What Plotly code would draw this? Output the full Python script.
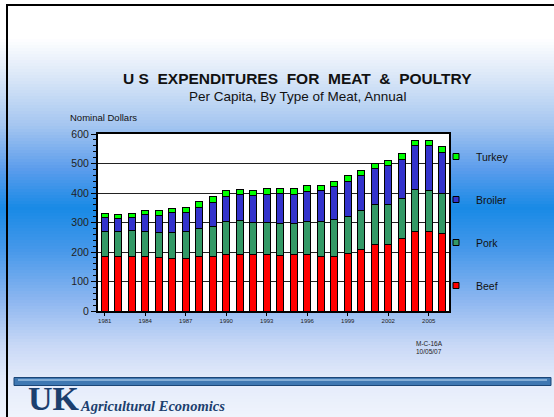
import plotly.graph_objects as go

# per capita expenditures, nominal dollars
years = list(range(1981, 2007))
beef = [186, 186, 186, 186, 183, 179, 177, 184, 184, 192, 192, 190, 190,
        187, 190, 190, 186, 186, 195, 208, 226, 226, 245, 269, 269, 263]
pork = [83, 83, 87, 83, 83, 87, 92, 96, 101, 112, 115, 109, 109,
        110, 107, 112, 116, 125, 126, 133, 136, 136, 136, 143, 141, 137]
broiler = [47, 44, 45, 57, 58, 69, 66, 72, 84, 85, 87, 93, 97,
           102, 97, 104, 107, 110, 119, 119, 120, 130, 132, 148, 150, 139]
turkey = [13, 14, 14, 15, 16, 14, 17, 18, 18, 19, 19, 18, 18,
          17, 20, 19, 18, 18, 18, 16, 18, 18, 20, 17, 17, 18]
year_ticks = list(range(1981, 2007, 3))

series = [
    ("Beef", beef, "#FF0000"),
    ("Pork", pork, "#339966"),
    ("Broiler", broiler, "#3333CC"),
    ("Turkey", turkey, "#00FF00"),
]

W, H = 554, 417
L, R, T, B = 98, 449, 134, 311   # plot area in pixels


def px(x):
    return (x - L) / (R - L)


def py(y):
    return (B - y) / (B - T)


fig = go.Figure()

for i, (name, vals, color) in enumerate(series):
    fig.add_trace(go.Bar(
        x=years, y=vals, name=name,
        marker=dict(color=color, line=dict(color="black", width=1)),
        width=0.55, showlegend=False,
    ))
    # small square legend keys, Turkey on top
    fig.add_trace(go.Scatter(
        x=[None], y=[None], name=name, mode="markers", legendgroup=name,
        legendrank=len(series) - i,
        marker=dict(symbol="square", size=6, color=color,
                    line=dict(color="black", width=1)),
    ))

# slide background: vertical white -> blue -> pale gradient
stops = [(0, (255, 255, 255)), (38, (255, 255, 255)), (75, (220, 232, 248)),
         (125, (165, 198, 240)), (170, (90, 156, 236)), (208, (24, 138, 230)),
         (250, (70, 152, 234)), (300, (140, 182, 240)), (345, (200, 216, 246)),
         (378, (226, 234, 250)), (417, (240, 244, 252))]


def color_at(y):
    for (y0, c0), (y1, c1) in zip(stops, stops[1:]):
        if y0 <= y <= y1:
            f = (y - y0) / (y1 - y0) if y1 > y0 else 0
            c = [round(a + (b - a) * f) for a, b in zip(c0, c1)]
            return "rgb(%d,%d,%d)" % tuple(c)
    return "white"


shapes = []
step = 3
for y in range(0, H, step):
    shapes.append(dict(type="rect", xref="paper", yref="paper", layer="below",
                       x0=px(0), x1=px(W), y0=py(y + step + 0.5), y1=py(y),
                       fillcolor=color_at(y + step / 2), line=dict(width=0)))
# white plot area
shapes.append(dict(type="rect", xref="paper", yref="paper", layer="below",
                   x0=0, x1=1, y0=0, y1=1, fillcolor="white", line=dict(width=0)))
# slide borders
shapes.append(dict(type="line", xref="paper", yref="paper", x0=px(7), x1=px(7),
                   y0=py(5), y1=py(H), line=dict(color="black", width=2)))
shapes.append(dict(type="line", xref="paper", yref="paper", x0=px(6), x1=px(W),
                   y0=py(5), y1=py(5), line=dict(color="black", width=2)))
# blue tube under the chart
shapes.append(dict(type="rect", xref="paper", yref="paper", x0=px(14), x1=px(551),
                   y0=py(385.5), y1=py(377.5), fillcolor="#3f78b2",
                   line=dict(color="#1b4677", width=1)))
shapes.append(dict(type="line", xref="paper", yref="paper", x0=px(18), x1=px(547),
                   y0=py(380), y1=py(380), line=dict(color="#9cc0e2", width=1.5)))

annotations = [
    dict(text="U S\u00a0\u00a0EXPENDITURES\u00a0\u00a0FOR\u00a0\u00a0MEAT\u00a0\u00a0&\u00a0\u00a0POULTRY",
         x=px(297), y=py(78), font=dict(size=15.5, color="#111111",
                                         family="Liberation Sans, Arial", weight="bold")),
    dict(text="Per Capita, By Type of Meat, Annual", x=px(297), y=py(96),
         font=dict(size=13.5, color="#111111")),
    dict(text="Nominal Dollars", x=px(68), y=py(117), xanchor="left",
         font=dict(size=9.5, color="#111111")),
    dict(text="M-C-16A", x=px(429), y=py(343), font=dict(size=6.5, color="#222222")),
    dict(text="10/05/07", x=px(429), y=py(351), font=dict(size=6.5, color="#222222")),
    dict(text="<b>UK</b>", x=px(26), y=py(398), xanchor="left",
         font=dict(size=34, color="#1c3f6e", family="Liberation Serif, Times New Roman")),
    dict(text="<b><i>Agricultural Economics</i></b>", x=px(78), y=py(406), xanchor="left",
         font=dict(size=14.5, color="#1c3f6e", family="Liberation Serif, Times New Roman")),
]
for a in annotations:
    a.update(xref="paper", yref="paper", showarrow=False)
    a.setdefault("xanchor", "center")
    a["yanchor"] = "middle"

fig.update_layout(
    width=W, height=H,
    margin=dict(l=L, r=W - R, t=T, b=H - B),
    barmode="stack",
    paper_bgcolor="white",
    plot_bgcolor="white",
    font=dict(family="Liberation Sans, Arial", color="#111111"),
    shapes=shapes,
    annotations=annotations,
    legend=dict(
        x=px(436), y=py(142), xanchor="left", yanchor="top",
        traceorder="grouped", tracegroupgap=24,
        font=dict(size=10.5, color="#111111"),
        bgcolor="rgba(0,0,0,0)", itemwidth=30,
    ),
    xaxis=dict(
        range=[1980.5, 2006.5], tickvals=year_ticks,
        ticks="outside", ticklen=3, tickcolor="black",
        tickfont=dict(size=6, color="#222222"),
        showline=True, linecolor="black", linewidth=1.5, mirror=True,
        showgrid=False, zeroline=False,
    ),
    yaxis=dict(
        range=[0, 600], dtick=100,
        ticks="outside", ticklen=5, tickcolor="black",
        minor=dict(dtick=20, ticks="outside", ticklen=3, tickcolor="black"),
        tickfont=dict(size=10.5, color="#222222"),
        showline=True, linecolor="black", linewidth=2, mirror=True,
        showgrid=True, gridcolor="#222222", gridwidth=1, zeroline=False,
    ),
)

# the slide fills the whole window, so drop the page margin
fig.write_html("out.html", config={"displayModeBar": False},
               post_script="document.body.style.margin='0';")
